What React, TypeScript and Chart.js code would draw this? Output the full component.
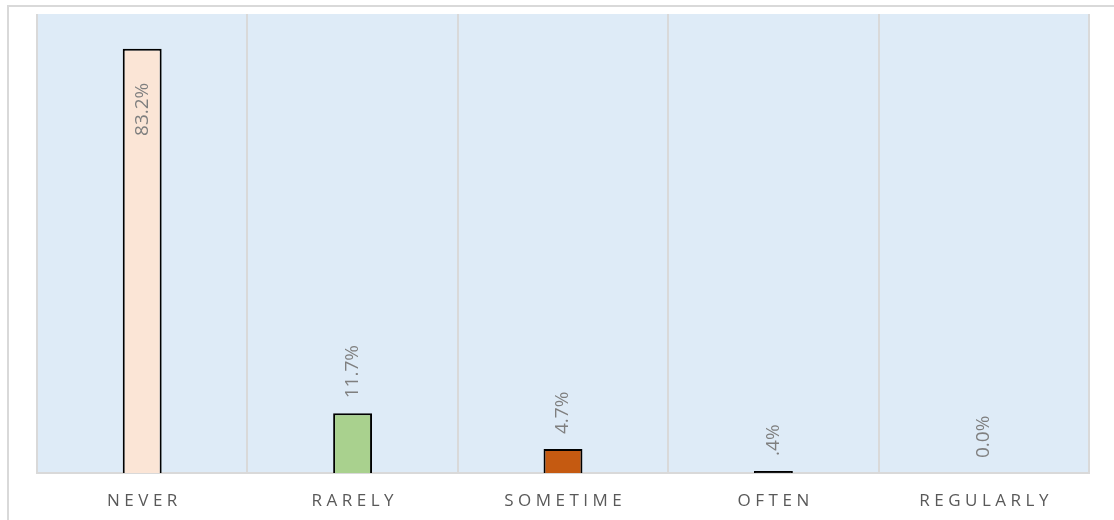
import React, { useEffect, useRef } from "react";
import { Chart, registerables } from "chart.js";

Chart.register(...registerables);

const categories = ["NEVER", "RARELY", "SOMETIME", "OFTEN", "REGULARLY"];
const values = [83.2, 11.7, 4.7, 0.4, 0.0];
const valueLabels = ["83.2%", "11.7%", "4.7%", ".4%", "0.0%"];
const barColors = ["#FBE5D6", "#A9D18E", "#C55A11", "#1a1a1a", "#5B9BD5"];
const yMax = 90;

const W = 1114;
const H = 520;

const decorPlugin = {
  id: "decor",
  beforeDraw(chart: any) {
    const { ctx, chartArea } = chart;
    ctx.save();
    ctx.fillStyle = "#DEEBF7";
    ctx.fillRect(chartArea.left, chartArea.top, chartArea.right - chartArea.left, chartArea.bottom - chartArea.top);
    // outer chart border (left and top visible)
    ctx.strokeStyle = "#D9D9D9";
    ctx.lineWidth = 2;
    ctx.beginPath();
    ctx.moveTo(8, H);
    ctx.lineTo(8, 6);
    ctx.lineTo(W, 6);
    ctx.stroke();
    ctx.restore();
  },
  afterDatasetsDraw(chart: any) {
    const { ctx, chartArea } = chart;
    const meta = chart.getDatasetMeta(0);
    ctx.save();
    ctx.font = '19px "Open Sans"';
    ctx.fillStyle = "#7F7F7F";
    ctx.textBaseline = "middle";
    meta.data.forEach((bar: any, i: number) => {
      const label = valueLabels[i];
      const w = ctx.measureText(label).width;
      const outsideStart = bar.y - 15;
      ctx.save();
      ctx.translate(bar.x, 0);
      ctx.rotate(-Math.PI / 2);
      if (outsideStart - w < chartArea.top) {
        ctx.textAlign = "right";
        ctx.fillText(label, -(bar.y + 34), 0);
      } else {
        ctx.textAlign = "left";
        ctx.fillText(label, -outsideStart, 0);
      }
      ctx.restore();
    });
    ctx.restore();
  },
  afterDraw(chart: any) {
    const { ctx } = chart;
    const xs = chart.scales.x;
    ctx.save();
    ctx.font = '17px "Open Sans"';
    ctx.fillStyle = "#595959";
    ctx.textAlign = "center";
    ctx.textBaseline = "middle";
    const sp = 4.5;
    (ctx as any).letterSpacing = sp + "px";
    categories.forEach((c, i) => {
      const x = xs.getPixelForTick(i);
      ctx.fillText(c, x + sp / 2, 501);
    });
    (ctx as any).letterSpacing = "0px";
    ctx.restore();
  },
};

export default function App() {
  const ref = useRef<HTMLCanvasElement>(null);
  useEffect(() => {
    if (!ref.current) return;
    const chart = new Chart(ref.current, {
      type: "bar",
      data: {
        labels: categories,
        datasets: [
          {
            data: values,
            backgroundColor: barColors,
            borderColor: "#000000",
            borderWidth: 2,
            borderSkipped: "start",
            barPercentage: 0.185,
            categoryPercentage: 1,
          },
        ],
      },
      options: {
        responsive: false,
        animation: false,
        devicePixelRatio: 1,
        layout: { padding: { left: 37, top: 14, right: 25, bottom: 47 } },
        plugins: {
          legend: { display: false },
          tooltip: { enabled: false },
          title: { display: false },
        },
        scales: {
          x: {
            display: true,
            offset: true,
            ticks: { display: false },
            grid: { display: true, offset: true, drawTicks: false, color: "#D9D9D9", lineWidth: 2 },
            border: { display: true, color: "#D9D9D9", width: 2 },
          },
          y: {
            display: false,
            min: 0,
            max: yMax,
          },
        },
      },
      plugins: [decorPlugin],
    });
    return () => chart.destroy();
  }, []);
  return (
    <div style={{ position: "absolute", left: 0, top: 0, width: W, height: H, background: "#ffffff" }}>
      <canvas ref={ref} width={W} height={H} style={{ display: "block", width: W, height: H }} />
    </div>
  );
}
